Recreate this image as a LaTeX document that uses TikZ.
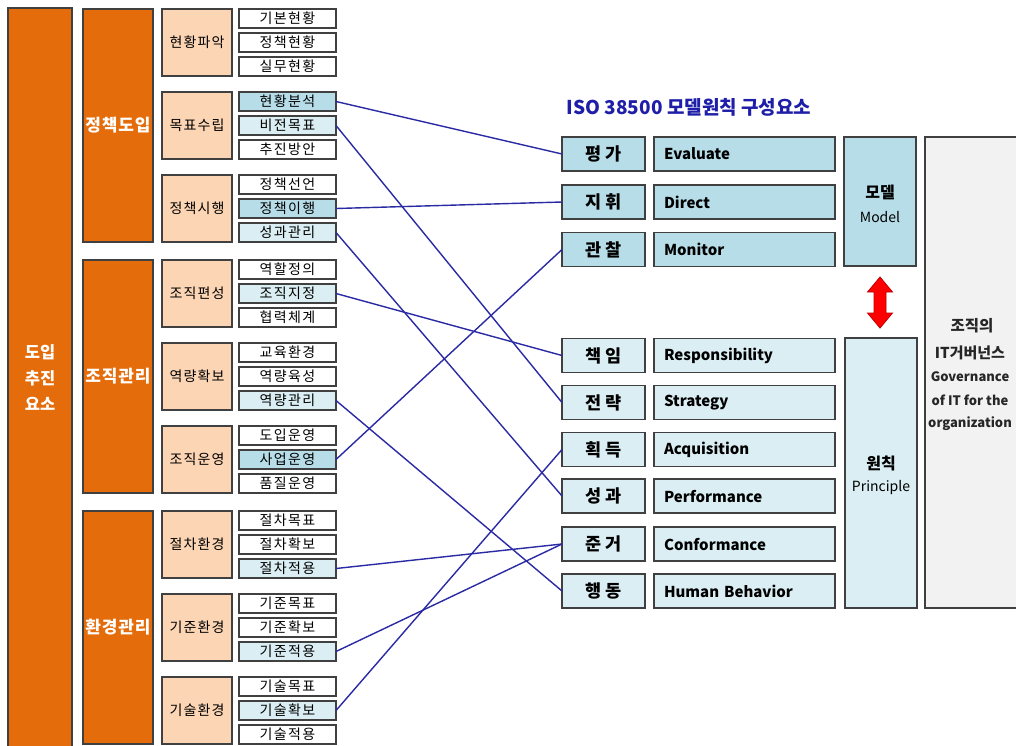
\documentclass[tikz,border=0pt]{standalone}
\usepackage{fontspec}
\setmainfont{Noto Sans CJK KR}
\definecolor{orng}{HTML}{E46C0A}
\definecolor{peach}{HTML}{FCD5B4}
\definecolor{blueA}{HTML}{B7DEE8}
\definecolor{blueB}{HTML}{DAEEF3}
\definecolor{edge}{HTML}{404040}
\definecolor{linkc}{HTML}{2A2AA5}
\definecolor{titlec}{HTML}{1E1EA8}
\definecolor{grayf}{HTML}{F2F2F2}
\begin{document}
\begin{tikzpicture}[x=1pt,y=-1pt,
  box/.style={draw=edge, line width=1.1pt, inner sep=0pt, outer sep=0pt},
  bigbox/.style={box, fill=orng, text=white, minimum width=70, minimum height=233, font=\fontsize{17}{18}\selectfont\bfseries\addfontfeature{LetterSpace=5}},
  peachbox/.style={box, fill=peach, minimum width=70, minimum height=67, font=\fontsize{14}{15}\selectfont\addfontfeature{LetterSpace=8}},
  item/.style={box, fill=white, minimum width=97, minimum height=19, font=\fontsize{14}{15}\selectfont\addfontfeature{LetterSpace=10}},
  itemA/.style={item, fill=blueA},
  itemB/.style={item, fill=blueB},
  korA/.style={box, fill=blueA, minimum width=83, minimum height=34, font=\fontsize{17.5}{18}\selectfont\bfseries},
  korB/.style={korA, fill=blueB},
  engA/.style={box, fill=blueA, minimum height=34, text width=161, inner xsep=10, align=left, font=\fontsize{15}{17}\selectfont\bfseries},
  engB/.style={engA, fill=blueB},
  link/.style={draw=linkc, line width=1.4pt},
  gtext/.style={inner sep=0pt, font=\fontsize{13}{15}\selectfont\bfseries, text=black!85}
]
\useasboundingbox (0,0) rectangle (1016,745);
\clip (0,0) rectangle (1016,745);
\fill[white] (0,0) rectangle (1016,745);

% column 1
\node[box, fill=orng, minimum width=64, minimum height=760, anchor=north] (root) at (40,8) {};
\node[text=white, align=center, inner sep=0pt, font=\fontsize{16.5}{26}\selectfont\bfseries] (roott) at (40,378) {도입\\추진\\요소};

% column 2
\node[bigbox] (g1) at (118,125.5) {정책도입};
\node[bigbox] (g2) at (118,376.5) {조직관리};
\node[bigbox] (g3) at (118,627.5) {환경관리};

% column 3
\node[peachbox] (p1) at (197,42.5) {현황파악};
\node[peachbox] (p2) at (197,125.5) {목표수립};
\node[peachbox] (p3) at (197,208.5) {정책시행};
\node[peachbox] (p4) at (197,293.5) {조직편성};
\node[peachbox] (p5) at (197,376.5) {역량확보};
\node[peachbox] (p6) at (197,459.5) {조직운영};
\node[peachbox] (p7) at (197,544.5) {절차환경};
\node[peachbox] (p8) at (197,627.5) {기준환경};
\node[peachbox] (p9) at (197,710.5) {기술환경};

% column 4
\node[item]  (s11) at (287.5,18.5) {기본현황};
\node[item]  (s12) at (287.5,42.5) {정책현황};
\node[item]  (s13) at (287.5,66.5) {실무현황};
\node[itemA] (s21) at (287.5,101.5) {현황분석};
\node[itemB] (s22) at (287.5,125.5) {비전목표};
\node[item]  (s23) at (287.5,149.5) {추진방안};
\node[item]  (s31) at (287.5,184.5) {정책선언};
\node[itemA] (s32) at (287.5,208.5) {정책이행};
\node[itemB] (s33) at (287.5,232.5) {성과관리};
\node[item]  (s41) at (287.5,269.5) {역할정의};
\node[itemB] (s42) at (287.5,293.5) {조직지정};
\node[item]  (s43) at (287.5,317.5) {협력체계};
\node[item]  (s51) at (287.5,352.5) {교육환경};
\node[item]  (s52) at (287.5,376.5) {역량육성};
\node[itemB] (s53) at (287.5,400.5) {역량관리};
\node[item]  (s61) at (287.5,435.5) {도입운영};
\node[itemA] (s62) at (287.5,459.5) {사업운영};
\node[item]  (s63) at (287.5,483.5) {품질운영};
\node[item]  (s71) at (287.5,520.5) {절차목표};
\node[item]  (s72) at (287.5,544.5) {절차확보};
\node[itemB] (s73) at (287.5,568.5) {절차적용};
\node[item]  (s81) at (287.5,603.5) {기준목표};
\node[item]  (s82) at (287.5,627.5) {기준확보};
\node[itemB] (s83) at (287.5,651.5) {기준적용};
\node[item]  (s91) at (287.5,686.5) {기술목표};
\node[itemB] (s92) at (287.5,710.5) {기술확보};
\node[item]  (s93) at (287.5,734.5) {기술적용};

% title
\node[inner sep=0pt, text=titlec, font=\fontsize{19}{20}\selectfont\bfseries] (title) at (689,107) {ISO 38500 모델원칙 구성요소};

% right: korean + english
\node[korA] (k1) at (603.5,154) {평 가};
\node[korA] (k2) at (603.5,202) {지 휘};
\node[korA] (k3) at (603.5,249.5) {관 찰};
\node[korB] (k4) at (603.5,355.5) {책 임};
\node[korB] (k5) at (603.5,402.5) {전 략};
\node[korB] (k6) at (603.5,449.5) {획 득};
\node[korB] (k7) at (603.5,496) {성 과};
\node[korB] (k8) at (603.5,544) {준 거};
\node[korB] (k9) at (603.5,591) {행 동};

\node[engA] (e1) at (744.5,154) {Evaluate};
\node[engA] (e2) at (744.5,202) {Direct};
\node[engA] (e3) at (744.5,249.5) {Monitor};
\node[engB] (e4) at (744.5,355.5) {Responsibility};
\node[engB] (e5) at (744.5,402.5) {Strategy};
\node[engB] (e6) at (744.5,449.5) {Acquisition};
\node[engB] (e7) at (744.5,496) {Performance};
\node[engB] (e8) at (744.5,544) {Conformance};
\node[engB] (e9) at (744.5,591) {Human Behavior};

% model / principle
\node[box, fill=blueA, minimum width=72, minimum height=129] (model) at (880,201.5) {};
\node[inner sep=0pt, font=\fontsize{16}{17}\selectfont\bfseries] (modelk) at (880,192) {모델};
\node[inner sep=0pt, font=\fontsize{14}{15}\selectfont] (modele) at (880,217) {Model};
\node[box, fill=blueB, minimum width=72, minimum height=270] (princ) at (881,473) {};
\node[inner sep=0pt, font=\fontsize{16}{17}\selectfont\bfseries] (princk) at (881,463) {원칙};
\node[inner sep=0pt, font=\fontsize{14}{15}\selectfont] (prince) at (881,488) {Principle};

% red double arrow
\filldraw[fill=red, draw=red!75!black, line width=0.8pt] (880,277) -- (892.5,292) -- (886,292) -- (886,313) -- (892.5,313) -- (880,328) -- (867.5,313) -- (874,313) -- (874,292) -- (867.5,292) -- cycle;

% governance box
\node[box, fill=grayf, minimum width=105, minimum height=471, anchor=north west] (gov) at (925,137) {};
\node[gtext, font=\fontsize{15.5}{17}\selectfont\bfseries] (gv1) at (972,326) {조직의};
\node[gtext, font=\fontsize{15}{17}\selectfont\bfseries] (gv2) at (970,353) {IT거버넌스};
\node[gtext] (gv3) at (970,377) {Governance};
\node[gtext] (gv4) at (970,400) {of IT for the};
\node[gtext] (gv5) at (970,424) {organization};

% connectors
\draw[link] (s21.east) -- (k1.west);
\draw[link] (s22.east) -- (k5.west);
\draw[link] (s32.east) -- (k2.west);
\draw[link] (s33.east) -- (k7.west);
\draw[link] (s42.east) -- (k4.west);
\draw[link] (s53.east) -- (k9.west);
\draw[link] (s62.east) -- (k3.west);
\draw[link] (s73.east) -- (k8.west);
\draw[link] (s83.east) -- (k8.west);
\draw[link] (s92.east) -- (k6.west);
\end{tikzpicture}
\end{document}
